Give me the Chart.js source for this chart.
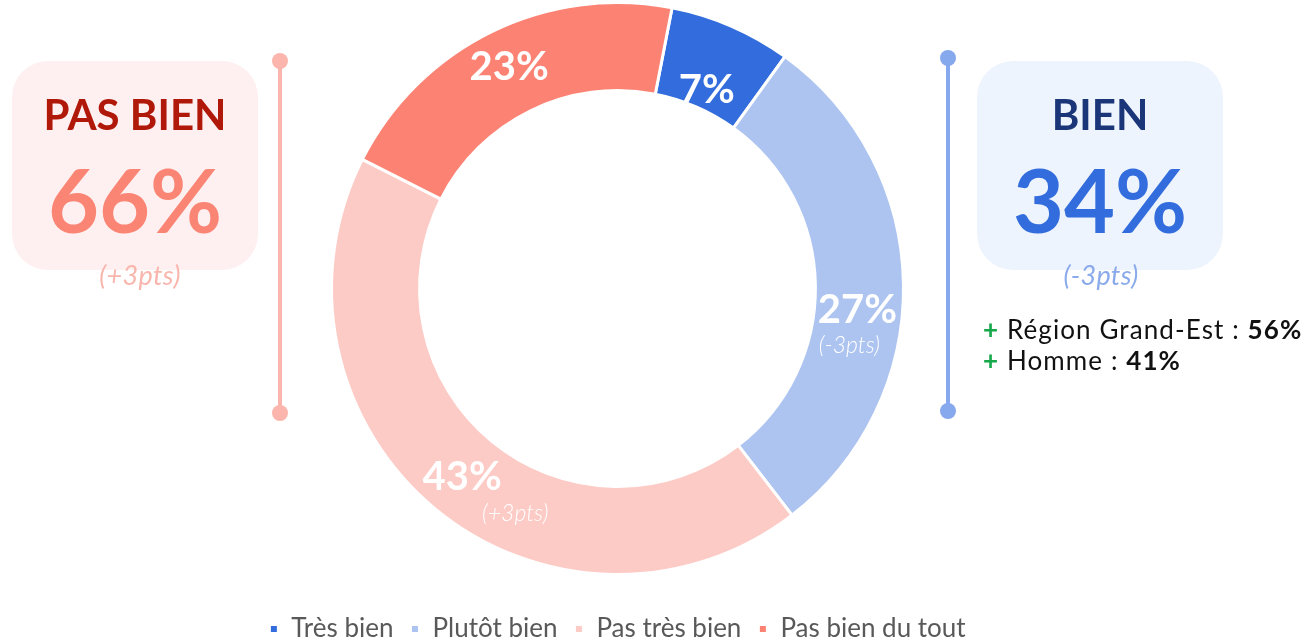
<!DOCTYPE html>
<html lang="fr">
<head>
<meta charset="utf-8">
<title>Bien / Pas bien</title>
<script src="https://cdn.jsdelivr.net/npm/chart.js@4/dist/chart.umd.min.js"></script>
<style>
  html, body { margin: 0; padding: 0; background: #fff; width: 1307px; height: 641px; overflow: hidden; }
  body { font-family: Lato, 'Open Sans', sans-serif; position: relative; }
  #chart-box { position: absolute; left: 0; top: -22px; width: 1307px; height: 674px; }

  /* ─── side panels ─────────────────────────────── */
  .panel { position: absolute; top: 61px; width: 246px; height: 209px; border-radius: 36px; }
  .panel.bad  { left: 12px;  background: #FEF0F0; }
  .panel.good { left: 977px; background: #EEF4FD; }
  .panel .title, .panel .big { position: absolute; left: 0; right: 0; text-align: center; font-weight: 700; white-space: nowrap; }
  .panel .title { top: 32px; font-size: 42px; line-height: 42px; }
  .panel .big   { top: 94px; font-size: 88px; line-height: 88px; }
  .bad .title  { color: #B0190A; }
  .bad .big    { color: #FB8574; }
  .good .title { color: #1B3678; }
  .good .big   { color: #336DDD; }
  .delta { position: absolute; top: 260px; width: 246px; text-align: center; font-style: italic; font-size: 27px; line-height: 30px; letter-spacing: 0.3px; }
  .delta.bad  { left: 17px;  color: #F8B6AD; }
  .delta.good { left: 978px; color: #8AAAEB; }

  /* ─── vertical brackets ───────────────────────── */
  .rail { position: absolute; width: 4px; }
  .rail.bad  { left: 278px; top: 61px; height: 352px; background: #FBB5AC; }
  .rail.good { left: 946px; top: 58px; height: 353px; background: #86A8EC; }
  .dot { position: absolute; width: 16px; height: 16px; border-radius: 50%; }
  .dot.bad  { left: 272px; background: #FBB5AC; }
  .dot.good { left: 940px; background: #86A8EC; }

  /* ─── highlights ──────────────────────────────── */
  .notes { position: absolute; left: 983px; top: 314px; font-size: 26px; line-height: 31px; letter-spacing: 1.1px; color: #111; white-space: nowrap; }
  .notes .plus { color: #16A84A; font-weight: 700; }
  .notes b { font-weight: 700; }
</style>
</head>
<body>
  <div id="chart-box"><canvas id="chart-donut"></canvas></div>

  <div class="rail bad"></div>
  <div class="dot bad" style="top:53px"></div>
  <div class="dot bad" style="top:405px"></div>
  <div class="rail good"></div>
  <div class="dot good" style="top:50px"></div>
  <div class="dot good" style="top:403px"></div>

  <div class="panel bad">
    <div class="title">PAS BIEN</div>
    <div class="big">66%</div>
  </div>
  <div class="delta bad">(+3pts)</div>

  <div class="panel good">
    <div class="title">BIEN</div>
    <div class="big">34%</div>
  </div>
  <div class="delta good">(-3pts)</div>

  <div class="notes">
    <div><span class="plus">+</span> Région Grand-Est : <b>56%</b></div>
    <div><span class="plus">+</span> Homme : <b>41%</b></div>
  </div>

<script>
'use strict';

/* ─── Data ─────────────────────────────────────────────────── */
const categories  = ['Très bien', 'Plutôt bien', 'Pas très bien', 'Pas bien du tout'];
const sliceShares = [6.9, 29.6, 42.9, 20.6];          // arc sizes as drawn
const sliceLabels = ['7%', '27%', '43%', '23%'];
const sliceDeltas = ['', '(-3pts)', '(+3pts)', ''];
const sliceColors = ['#336DDD', '#ADC4F1', '#FDCBC6', '#FC8373'];

/* label nudges relative to each arc's centre */
const labelNudge = [[-7, 24], [-2, 25], [-1, 2], [-2, -4]];
const deltaNudge = [[0, 0], [-8, 36], [53, 37], [0, 0]];

/* ─── Slice labels plugin ──────────────────────────────────── */
const sliceLabelPlugin = {
  id: 'sliceLabels',
  afterDatasetsDraw(chart) {
    const { ctx } = chart;
    const meta = chart.getDatasetMeta(0);
    ctx.save();
    ctx.fillStyle = '#fff';
    ctx.textAlign = 'center';
    ctx.textBaseline = 'middle';
    meta.data.forEach((arc, i) => {
      const p = arc.tooltipPosition();
      const x = p.x + labelNudge[i][0];
      const y = p.y + labelNudge[i][1];
      ctx.font = "700 40px Lato, 'Open Sans', sans-serif";
      ctx.fillText(sliceLabels[i], x, y);
      if (sliceDeltas[i]) {
        ctx.font = "italic 300 23px Lato, 'Open Sans', sans-serif";
        ctx.fillText(sliceDeltas[i], x + deltaNudge[i][0], y + deltaNudge[i][1]);
      }
    });
    ctx.restore();
  },
};

/* ─── Chart ────────────────────────────────────────────────── */
Chart.defaults.font.family = "Lato, 'Open Sans', sans-serif";

new Chart(document.getElementById('chart-donut'), {
  type: 'doughnut',
  data: {
    labels: categories,
    datasets: [{
      data: sliceShares,
      backgroundColor: sliceColors,
      borderColor: '#ffffff',
      borderWidth: 3,
      hoverOffset: 0,
    }],
  },
  options: {
    responsive: true,
    maintainAspectRatio: false,
    animation: false,
    rotation: 11,
    radius: 286,
    cutout: '69.2%',
    layout: { padding: { left: 0, right: 72, top: 0, bottom: 0 } },
    plugins: {
      tooltip: { enabled: false },
      legend: {
        position: 'bottom',
        labels: {
          boxWidth: 9,
          boxHeight: 9,
          padding: 17,
          color: '#595959',
          font: { size: 26 },
        },
      },
    },
  },
  plugins: [sliceLabelPlugin],
});
</script>
</body>
</html>
